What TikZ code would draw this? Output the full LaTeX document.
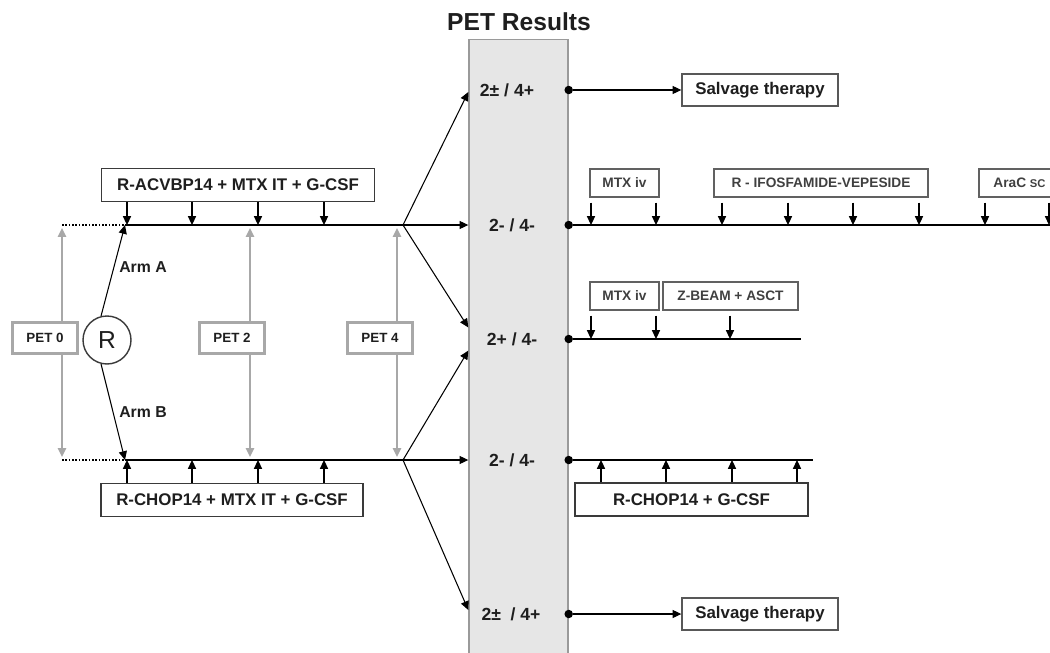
\documentclass[tikz,border=0pt]{standalone}
\usepackage{fontspec}
\setmainfont{Liberation Sans}
\usetikzlibrary{positioning, arrows.meta, calc}
\definecolor{petgray}{HTML}{A8A8A8}
\definecolor{bandgray}{HTML}{E6E6E6}
\definecolor{bandline}{HTML}{9A9A9A}
\definecolor{inkgray}{HTML}{1E1E1E}
\definecolor{boxline}{HTML}{3A3A3A}

\begin{document}
\begin{tikzpicture}[
    x=0.02cm, y=-0.02cm,
    every node/.style={font=\bfseries, text=inkgray},
    regimen/.style={draw=boxline, line width=1.1pt, fill=white, minimum height=0.66cm, inner sep=0pt, font=\bfseries\fontsize{9.6}{11}\selectfont},
    salvage/.style={draw=boxline!85, line width=0.8pt, fill=white, minimum width=3.12cm, minimum height=0.64cm, inner sep=0pt, font=\bfseries\fontsize{9.6}{11}\selectfont},
    course/.style={draw=boxline!80, line width=0.7pt, fill=white, minimum height=0.56cm, inner sep=0pt, font=\bfseries\fontsize{7.8}{9}\selectfont, text=inkgray!85},
    petbox/.style={draw=petgray, line width=1.2pt, fill=white, minimum width=1.3cm, minimum height=0.62cm, inner sep=0pt, font=\bfseries\fontsize{7.6}{9}\selectfont},
    result/.style={inner xsep=0pt, inner ysep=0pt, minimum height=0.44cm, font=\bfseries\fontsize{10}{12}\selectfont},
    dot/.style={circle, fill=black, inner sep=0pt, minimum size=0.17cm},
    petarrow/.style={{Triangle[length=5pt,width=4.5pt]}-{Triangle[length=5pt,width=4.5pt]}, petgray, line width=1.2pt},
    dose/.style={->, line width=0.6pt},
    gapdose/.style={dose, shorten <=0.1cm},
    >={Triangle[length=5pt,width=4.6pt]},
    line width=0.6pt,
  ]
  \useasboundingbox (0,0) rectangle (1050,652);

  % PET results column
  \node[draw=bandline, fill=bandgray, line width=0.8pt, minimum width=1.98cm, minimum height=12.5cm, inner sep=0pt] (band) at (518.5,352) {};
  \node[font=\bfseries\fontsize{14}{16}\selectfont] (title) at (519,22) {PET Results};

  \node[result] (r1) at (507,90) {2± / 4+};
  \node[result] (r2) at (512,225) {2- / 4-};
  \node[result] (r3) at (512,339) {2+ / 4-};
  \node[result] (r4) at (512,460) {2- / 4-};
  \node[result] (r5) at (511,614) {2±~ / 4+};

  \node[dot] (d1) at (band.east |- r1) {};
  \node[dot] (d2) at (band.east |- r2) {};
  \node[dot] (d3) at (band.east |- r3) {};
  \node[dot] (d4) at (band.east |- r4) {};
  \node[dot] (d5) at (band.east |- r5) {};

  % randomisation
  \node[circle, draw=boxline, line width=0.8pt, minimum size=0.96cm, inner sep=0pt, font=\mdseries\fontsize{14}{16}\selectfont] (rand) at (107,340) {R};
  \coordinate (aS) at (125,225);
  \coordinate (bS) at (125,460);
  \coordinate (brA) at (403,225);
  \coordinate (brB) at (403,460);
  \draw[->] (rand.104) -- (aS);
  \draw[->] (rand.256) -- (bS);
  \node[font=\bfseries\fontsize{9}{11}\selectfont] (armA) at (143,267) {Arm A};
  \node[font=\bfseries\fontsize{9}{11}\selectfont] (armB) at (143,412) {Arm B};

  \draw (aS) -- (brA);
  \draw (bS) -- (brB);

  % interim PET scans
  \foreach \n/\x/\c in {0/62/45, 2/250/232, 4/397/380} {
    \coordinate (p\n t) at (\x,228);
    \coordinate (p\n b) at (\x,457);
    \draw[petarrow] (p\n t) -- (p\n b);
    \node[petbox] (pet\n) at (\c,338) {PET \n};
  }
  \draw[densely dotted, line width=0.9pt] (p0t |- aS) -- (aS);
  \draw[densely dotted, line width=0.9pt] (p0b |- bS) -- (bS);

  % induction regimens
  \node[regimen, minimum width=5.46cm] (armAbox) at (238,185) {R-ACVBP14 + MTX IT + G-CSF};
  \node[regimen, minimum width=5.24cm] (armBbox) at (232,500) {R-CHOP14 + MTX IT + G-CSF};
  \foreach \x in {127,192,258,324} {
    \coordinate (t) at (\x,225);
    \draw[dose] (armAbox.south -| t) -- (t);
    \coordinate (u) at (\x,460);
    \draw[dose] (armBbox.north -| u) -- (u);
  }

  % branching to PET results
  \draw[->] (brA) -- ($(band.west |- r1)+(0,2)$);
  \draw[->] (brA) -- (band.west |- r2);
  \draw[->] (brA) -- (band.west |- r3.north);
  \draw[->] (brB) -- (band.west |- r3.south);
  \draw[->] (brB) -- (band.west |- r4);
  \draw[->] (brB) -- ($(band.west |- r5)+(0,-4)$);

  % salvage
  \node[salvage] (salv1) at (760,90) {Salvage therapy};
  \node[salvage] (salv2) at (760,614) {Salvage therapy};
  \draw[->] (d1) -- (salv1);
  \draw[->] (d5) -- (salv2);

  % consolidation after 2- / 4-
  \node[course, minimum width=1.38cm] (mtxA) at (624.5,183) {MTX iv};
  \node[course, minimum width=4.28cm] (ifos) at (821,183) {R - IFOSFAMIDE-VEPESIDE};
  \node[course, minimum width=1.62cm] (arac) at (1019.5,183) {AraC {\fontsize{6.4}{8}\selectfont SC}\hspace{0.3cm}};
  \coordinate (e2) at (1060,225);
  \draw (d2) -- (e2);
  \foreach \x/\b in {591/mtxA, 656/mtxA, 722/ifos, 788/ifos, 853/ifos, 919/ifos, 985/arac, 1049/arac} {
    \coordinate (t) at (\x,225);
    \draw[gapdose] (\b.south -| t) -- (t);
  }

  % consolidation after 2+ / 4-
  \node[course, minimum width=1.38cm] (mtxB) at (624.5,296) {MTX iv};
  \node[course, minimum width=2.7cm] (zbeam) at (730.5,296) {Z-BEAM + ASCT};
  \coordinate (e3) at (801,339);
  \draw (d3) -- (e3);
  \foreach \x/\b in {591/mtxB, 656/mtxB, 730/zbeam} {
    \coordinate (t) at (\x,339);
    \draw[gapdose] (\b.south -| t) -- (t);
  }

  % consolidation in arm B
  \node[regimen, minimum width=4.66cm] (rchop) at (691.5,499.5) {R-CHOP14 + G-CSF};
  \coordinate (e4) at (813,460);
  \draw (d4) -- (e4);
  \foreach \x in {601,666,732,797} {
    \coordinate (t) at (\x,460);
    \draw[dose] (rchop.north -| t) -- (t);
  }
\end{tikzpicture}
\end{document}
